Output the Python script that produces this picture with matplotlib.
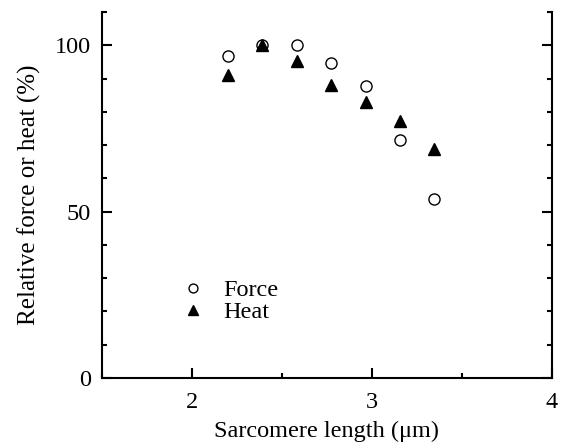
import matplotlib
matplotlib.use("Agg")
import matplotlib.pyplot as plt
from matplotlib.ticker import MultipleLocator

plt.rcParams['font.family'] = ['Liberation Serif', 'DejaVu Serif']

force_x = [2.20, 2.39, 2.585, 2.775, 2.965, 3.155, 3.345]
force_y = [96.7, 100.0, 100.0, 94.8, 87.8, 71.6, 53.9]
heat_x = [2.20, 2.39, 2.585, 2.775, 2.965, 3.155, 3.345]
heat_y = [91.1, 100.0, 95.2, 88.1, 83.0, 77.1, 68.7]

fig = plt.figure(figsize=(5.63, 4.46), dpi=100)
ax = fig.add_axes([102/563, 68/446, 450/563, 366/446])

ax.plot(force_x, force_y, linestyle='none', marker='o', markersize=8,
        markerfacecolor='white', markeredgecolor='black', markeredgewidth=1.0,
        label='Force', zorder=3)
ax.plot(heat_x, heat_y, linestyle='none', marker='^', markersize=9,
        color='black', label='Heat', zorder=4)

ax.set_xlim(1.5, 4)
ax.set_ylim(0, 110)
ax.xaxis.set_major_locator(MultipleLocator(1))
ax.xaxis.set_minor_locator(MultipleLocator(0.5))
ax.yaxis.set_major_locator(MultipleLocator(50))
ax.yaxis.set_minor_locator(MultipleLocator(10))
ax.set_xticks([2, 3, 4])

ax.spines['top'].set_visible(False)
for s in ['left', 'right', 'bottom']:
    ax.spines[s].set_linewidth(1.5)

fs = 17.5
ax.tick_params(which='both', direction='in', width=1.5, labelsize=fs,
               right=True, top=False)
ax.tick_params(which='major', length=7)
ax.tick_params(which='minor', length=3.6)
ax.tick_params(axis='y', pad=8)
ax.tick_params(axis='x', pad=10)
ax.tick_params(axis='y', which='both', labelright=False)

ax.set_xlabel('Sarcomere length (μm)', fontsize=fs, labelpad=6)
ax.set_ylabel('Relative force or heat (%)', fontsize=18, labelpad=10)

ax.legend(loc='upper left', bbox_to_anchor=(0.127, 0.33), frameon=False,
          fontsize=fs, markerscale=0.8, handletextpad=0.72, labelspacing=0.0,
          handlelength=1.0)

fig.savefig('out.png', dpi=100)
